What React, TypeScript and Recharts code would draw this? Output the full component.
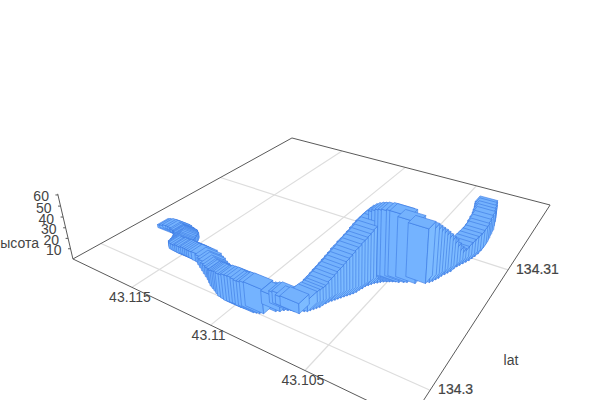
import React from 'react';
import { ScatterChart, Scatter, XAxis, YAxis } from 'recharts';

const lats = [43.11757,43.11748,43.11734,43.11712,43.11695,43.1167,43.11658,43.11642,43.11632,43.11622,43.11612,43.11596,43.11586,43.11578,43.11571,43.11566,43.11561,43.11561,43.11554,43.11547,43.11531,43.11515,43.115,43.11485,43.11476,43.1146,43.11445,43.1143,43.11415,43.114,43.11374,43.11345,43.11318,43.11292,43.11266,43.1124,43.11215,43.1119,43.11167,
43.11145,43.11124,43.11103,43.11082,43.11062,43.1104,43.11019,43.11002,43.10986,43.1097,43.10949,43.10935,43.10921,43.10906,43.10869,43.10853,43.10842,43.10827,43.10815,43.10799,43.10772,43.10761,43.10749,43.10742,43.10734,43.10727,43.10719,43.10716,43.1071,43.10705,43.10697,43.10689,
43.10682,43.10674,43.10666,43.10658,43.1065,43.10642,43.10636,43.10632,43.10626,43.10622,43.10614,43.10606,43.10598,43.10587,43.10577,43.10566,43.10554,43.10542,43.10529,43.10517,43.10502,43.10482,43.10469,43.10433,43.10391,43.10378,43.10369,43.10362,43.10355,43.1035,43.10342,43.10335,
43.10327,43.10323,43.10317,43.1031,43.10302,43.10294,43.10286,43.1028,43.10274,43.10269,43.10267,43.10268,43.10272,43.10277,43.10282,43.10293,43.10303,43.10316,43.1033];
const lons = [134.3034,134.30347,134.30356,134.30358,134.30356,134.30346,134.30343,134.30339,134.30333,134.30326,134.30316,134.30306,134.30293,134.30279,134.30265,134.3025,134.3024,134.30229,134.30222,134.30215,134.30213,134.30212,134.30211,134.30209,134.30215,134.30214,134.30213,134.30212,134.3021,134.30209,134.30204,134.30201,134.30186,134.30171,134.30156,134.30141,134.30127,134.30113,134.30097,
134.30082,134.30072,134.30062,134.30051,134.30041,134.30037,134.30033,134.30035,134.30037,134.30039,134.30035,134.3004,134.30045,134.30055,134.30099,134.3011,134.30126,134.30137,134.30145,134.30147,134.30147,134.30173,134.30181,134.30195,134.3021,134.30224,134.30239,134.3026,134.30278,134.30296,134.30311,134.30326,
134.30341,134.30356,134.30372,134.30387,134.30402,134.30418,134.30437,134.3046,134.30479,134.30503,134.30519,134.30535,134.30551,134.30563,134.30576,134.30588,134.30597,134.30605,134.30614,134.30622,134.30627,134.30641,134.3065,134.30664,134.30693,134.30712,134.30729,134.3075,134.30771,134.30796,134.30818,134.30839,
134.30861,134.30892,134.30919,134.30941,134.30964,134.30987,134.3101,134.31038,134.31066,134.31099,134.31138,134.31175,134.31217,134.31265,134.31315,134.31362,134.31411,134.31459,134.31508];
const heights = [3.1,3.1,3.1,3.1,3.1,3.1,3.1,3.1,3.6,4.1,4.6,5.1,5.6,6.1,6.1,6.1,6,6,6,6,6,6,7,7,6,7,6.9,6.9,6.9,6.9,7.9,6.9,6.8,7.8,7.7,8.6,9.5,11.4,12.2,
15,16.7,18.5,20.2,21,21.9,23.6,23.5,23.5,22.6,22.5,22.1,22.5,21.6,12.8,11.9,11,11,11,8.2,9.1,8.2,10,11,11.9,12.8,14.6,16.5,17.9,19.7,22,23.9,
26.1,28.4,30.7,33,35.7,37.5,39.8,40.8,42.7,44.2,46.9,49.2,51.5,53.7,55.9,57.7,59,59.9,60.3,60.3,60.7,60.3,59.4,55,49.7,47.2,44.6,41.5,38.5,35,31.4,27.7,
23.6,18,12.7,9.4,9.9,12.3,13.9,14.9,15.9,16.5,17.6,17.7,18.3,18.4,18.6,17.7,16.8,15.9,13.9];

const latTicks = [43.105, 43.11, 43.115];
const lonTicks = [134.3, 134.31];
const heightTicks = [10, 20, 30, 40, 50, 60];
const latRange = [43.1194, 43.1004];
const lonRange = [134.29815, 134.31844];
const barLat = 0.00105;
const barLon = 0.00085;

const sOf = (lat: number) => 0.2314 + (43.115 - lat) * 52.66;
const tOf = (lon: number) => 0.0912 + (lon - 134.3) * 49.29;
function proj(lon: number, lat: number, z: number): [number, number] {
  const s = sOf(lat), t = tOf(lon), r = -0.00085 * z;
  const W = -0.29516 * s + 0.46636 * t + 1 + r;
  return [
    (215.98 * s + 355.18 * t + 73 + 352 * r) / W,
    (37.74 * s - 56.64 * t + 259 + 1450 * r) / W,
  ];
}

type Seg = { x: number; y: number; x2: number; y2: number; stroke: string; w: number };
const seg = (a: [number, number], b: [number, number], stroke: string, w: number): Seg => ({ x: a[0], y: a[1], x2: b[0], y2: b[1], stroke, w });

const GRID = '#dddddd';
const EDGE = '#5a5a5a';
const segments: Seg[] = [
  ...latTicks.map((l) => seg(proj(lonRange[0], l, 0), proj(lonRange[1], l, 0), GRID, 1.2)),
  ...lonTicks.map((l) => seg(proj(l, latRange[0], 0), proj(l, latRange[1], 0), GRID, 1.2)),
  seg(proj(lonRange[0], latRange[0], 0), proj(lonRange[1], latRange[0], 0), EDGE, 1),
  seg(proj(lonRange[1], latRange[0], 0), proj(lonRange[1], latRange[1], 0), EDGE, 1),
  seg(proj(lonRange[1], latRange[1], 0), proj(lonRange[0], latRange[1], 0), EDGE, 1),
  seg(proj(lonRange[0], latRange[1], 0), proj(lonRange[0], latRange[0], 0), EDGE, 1),
  seg(proj(lonRange[0], latRange[0], 0), proj(lonRange[0], latRange[0], 61), EDGE, 1),
  ...heightTicks.map((h) => {
    const p = proj(lonRange[0], latRange[0], h);
    return seg(p, [p[0] - 2.5, p[1]], EDGE, 1);
  }),
];

type Lab = { x: number; y: number; text: string; dx: number; dy: number; anchor: string; bold: boolean };
const labels: Lab[] = [
  ...latTicks.map((l) => {
    const p = proj(lonRange[0], l, 0);
    return { x: p[0], y: p[1], text: String(l), dx: -2, dy: 10, anchor: 'middle', bold: false };
  }),
  ...lonTicks.map((l) => {
    const p = proj(l, latRange[1], 0);
    return { x: p[0], y: p[1], text: String(l), dx: 8, dy: -1, anchor: 'start', bold: true };
  }),
  ...heightTicks.map((h) => {
    const p = proj(lonRange[0], latRange[0], h);
    return { x: p[0], y: p[1], text: String(h), dx: -9, dy: 1.5, anchor: 'end', bold: false };
  }),
  { x: 39, y: 243, text: 'высота', dx: 0, dy: 0, anchor: 'end', bold: false },
  { x: 511, y: 360, text: 'lat', dx: 0, dy: 0, anchor: 'middle', bold: false },
];

const bars = lats
  .map((lat, i) => {
    const lon = lons[i], h = heights[i];
    const [x, y] = proj(lon, lat, 0);
    const a0 = lat + barLat / 2, a1 = lat - barLat / 2;
    const o0 = lon - barLon / 2, o1 = lon + barLon / 2;
    return {
      x, y,
      depth: sOf(lat) - tOf(lon),
      top: [proj(o0, a0, h), proj(o0, a1, h), proj(o1, a1, h), proj(o1, a0, h)],
      front: [proj(o0, a0, h), proj(o0, a1, h), proj(o0, a1, 0), proj(o0, a0, 0)],
      right: [proj(o0, a1, h), proj(o1, a1, h), proj(o1, a1, 0), proj(o0, a1, 0)],
    };
  })
  .sort((p, q) => p.depth - q.depth);

const STROKE = '#3a78e2';
function Prism(props: any) {
  const { cx, cy, payload: p } = props;
  const ox = cx - p.x, oy = cy - p.y;
  const pts = (q: number[][]) => q.map((c) => `${c[0] + ox},${c[1] + oy}`).join(' ');
  const common = { stroke: STROKE, strokeWidth: 0.6, strokeLinejoin: 'round' as const };
  return (
    <g>
      <polygon points={pts(p.front)} fill="#74b3ff" {...common} />
      <polygon points={pts(p.right)} fill="#7dbbff" {...common} />
      <polygon points={pts(p.top)} fill="#74b2fd" {...common} />
    </g>
  );
}
function SegShape(props: any) {
  const { cx, cy, payload: p } = props;
  return <line x1={cx} y1={cy} x2={cx + p.x2 - p.x} y2={cy + p.y2 - p.y} stroke={p.stroke} strokeWidth={p.w} />;
}
function LabShape(props: any) {
  const { cx, cy, payload: p } = props;
  return (
    <text x={cx + p.dx} y={cy + p.dy} textAnchor={p.anchor} dominantBaseline="central" fontFamily="'Liberation Sans', Arial, sans-serif" fontSize={14} fill="#444" stroke={p.bold ? '#444' : 'none'} strokeWidth={p.bold ? 0.2 : 0}>
      {p.text}
    </text>
  );
}

export default function App() {
  return (
    <div style={{ position: 'fixed', left: 0, top: 0, width: 600, height: 400, background: '#fff' }}>
      <ScatterChart width={600} height={400} margin={{ top: 0, right: 0, bottom: 0, left: 0 }}>
        <XAxis type="number" dataKey="x" domain={[0, 600]} hide allowDataOverflow />
        <YAxis type="number" dataKey="y" domain={[0, 400]} reversed hide allowDataOverflow />
        <Scatter data={segments} shape={SegShape} isAnimationActive={false} />
        <Scatter data={bars} shape={Prism} isAnimationActive={false} />
        <Scatter data={labels} shape={LabShape} isAnimationActive={false} />
      </ScatterChart>
    </div>
  );
}
